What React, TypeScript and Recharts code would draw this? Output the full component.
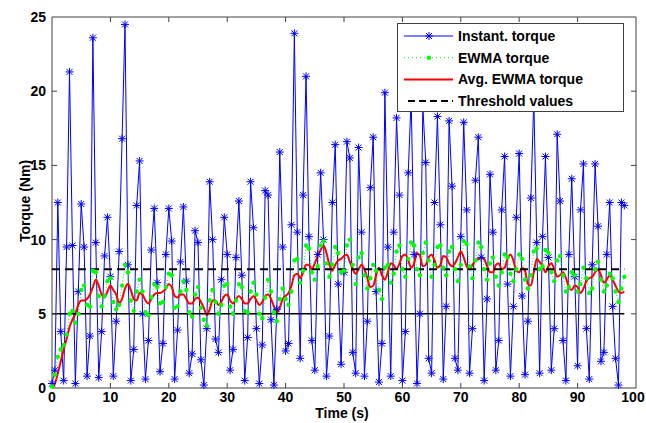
import { LineChart, Line, XAxis, YAxis, ReferenceLine, ReferenceArea, Legend } from "recharts";

// samples every 0.5 s, from 0 to 98 s
const sampleStep = 0.5;

const instantTorque = [
  0.3, 1.2, 12.5, 3.8, 0.5, 9.5, 21.3, 9.6, 0.3, 6.5,
  12.4, 9.5, 0.8, 3.5, 23.6, 9.8, 0.7, 3.8, 8.9, 11.5,
  7.5, 0.8, 4.5, 9.2, 16.8, 24.5, 8.3, 0.5, 2.6, 12.3,
  15.3, 5.0, 0.6, 3.2, 9.3, 12.1, 7.1, 1.1, 3.0, 9.0,
  12.1, 9.9, 0.6, 3.9, 8.5, 12.2, 7.2, 1.0, 2.3, 10.6,
  9.8, 1.9, 0.2, 4.0, 13.9, 10.0, 3.3, 2.4, 7.3, 11.5,
  9.0, 1.2, 2.6, 8.8, 12.6, 7.6, 0.5, 3.4, 13.9, 10.8,
  4.0, 0.3, 2.9, 13.3, 13.0, 4.6, 0.2, 5.3, 15.9, 9.5,
  2.5, 3.0, 11.0, 23.9, 10.5, 2.0, 13.0, 21.0, 10.2, 3.2,
  1.2, 9.0, 14.5, 10.0, 0.8, 3.5, 12.5, 16.4, 7.0, 1.6,
  7.8, 16.6, 15.5, 2.4, 1.0, 16.2, 10.5, 0.8, 4.5, 13.5,
  16.9, 6.5, 0.4, 3.0, 19.9, 9.5, 0.8, 10.5, 18.2, 13.0,
  0.5, 3.8, 14.5, 19.5, 9.0, 0.3, 5.0, 19.0, 15.2, 2.0,
  1.0, 12.5, 18.3, 11.0, 0.6, 5.5, 18.0, 13.6, 2.0, 1.2,
  10.2, 17.9, 12.0, 1.0, 4.0, 14.0, 16.9, 8.8, 0.5, 6.0,
  14.4, 10.5, 1.2, 3.2, 12.0, 15.6, 7.0, 0.8, 5.5, 11.5,
  15.8, 6.2, 0.9, 4.5, 12.8, 19.5, 9.8, 1.0, 10.2, 15.6,
  8.8, 1.2, 4.0, 17.1, 12.6, 3.2, 0.5, 9.0, 14.1, 7.5,
  1.5, 12.0, 15.1, 4.0, 0.6, 8.3, 15.1, 10.9, 1.8, 2.4,
  9.0, 12.5, 5.5, 2.0, 0.2, 12.5, 12.3,
];

const ewmaTorque = [
  0.1, 0.9, 2.1, 2.6, 2.9, 3.6, 5.0, 5.2, 4.4, 5.0,
  6.6, 6.9, 5.6, 5.5, 7.9, 7.8, 6.2, 5.5, 6.2, 7.2,
  7.4, 5.8, 5.3, 5.6, 6.9, 8.3, 7.8, 5.9, 5.2, 6.5,
  7.3, 6.5, 5.1, 4.9, 6.1, 7.0, 6.8, 5.7, 5.8, 6.8,
  7.7, 7.6, 5.4, 5.5, 6.5, 7.2, 6.6, 5.1, 4.8, 6.3,
  6.8, 5.4, 4.6, 4.2, 5.9, 6.6, 5.8, 5.0, 5.6, 6.9,
  7.0, 5.5, 5.0, 5.9, 7.0, 6.8, 5.2, 5.1, 6.5, 7.1,
  6.3, 5.0, 4.7, 6.1, 7.3, 6.5, 5.1, 4.5, 6.0, 6.7,
  6.0, 5.6, 6.5, 8.6, 8.7, 7.1, 7.9, 9.6, 9.4, 7.8,
  7.3, 8.2, 9.6, 9.9, 8.4, 7.5, 8.3, 9.5, 9.1, 7.8,
  7.9, 9.6, 10.0, 8.3, 7.0, 8.8, 9.1, 7.6, 6.7, 7.4,
  8.3, 7.9, 6.6, 6.0, 8.1, 8.3, 7.1, 7.7, 9.2, 9.6,
  8.0, 7.5, 8.7, 9.8, 9.6, 8.0, 7.6, 9.1, 9.8, 8.6,
  7.5, 8.3, 9.5, 9.6, 8.1, 7.6, 9.2, 9.5, 8.0, 7.2,
  8.3, 9.9, 9.7, 8.2, 7.4, 8.6, 9.8, 9.5, 8.0, 7.3,
  8.4, 8.8, 7.5, 6.9, 7.8, 9.0, 8.8, 7.7, 7.2, 8.0,
  9.0, 8.7, 7.3, 6.7, 7.6, 9.2, 9.4, 8.0, 8.2, 9.3,
  9.1, 7.8, 7.2, 8.6, 8.9, 7.6, 6.5, 6.8, 7.8, 7.6,
  6.5, 7.0, 8.1, 7.4, 6.4, 6.7, 8.0, 8.5, 7.3, 6.5,
  6.9, 7.7, 7.4, 6.5, 5.8, 6.7, 7.5,
];

const avgEwmaTorque = [
  0.0, 0.3, 1.0, 1.8, 2.6, 3.3, 4.1, 4.6, 5.0, 5.6,
  5.9, 5.9, 6.0, 6.3, 6.8, 7.3, 6.9, 6.3, 6.1, 6.5,
  6.9, 6.6, 6.3, 5.7, 6.0, 6.7, 7.0, 6.6, 6.0, 5.9,
  6.4, 6.3, 5.9, 5.7, 6.0, 6.3, 6.4, 6.4, 6.5, 6.7,
  7.0, 6.8, 6.2, 6.1, 6.3, 6.3, 6.0, 5.7, 5.7, 6.0,
  6.1, 5.8, 5.4, 4.9, 5.3, 5.9, 5.9, 5.6, 5.8, 6.2,
  6.3, 5.9, 5.7, 6.0, 6.2, 6.0, 5.7, 5.7, 6.0, 6.2,
  5.9, 5.6, 5.8, 6.2, 6.3, 6.0, 5.5, 5.1, 5.4, 6.0,
  6.2, 6.4, 6.9, 7.6, 7.7, 7.4, 7.8, 8.3, 8.3, 8.0,
  8.4, 8.9, 9.3, 9.6, 9.1, 8.3, 7.9, 8.3, 8.6, 8.7,
  8.9, 9.0, 8.5, 8.0, 7.7, 8.0, 8.3, 8.0, 7.4, 6.8,
  6.9, 7.6, 8.1, 7.6, 7.3, 7.8, 8.4, 8.3, 8.0, 8.4,
  8.9, 9.0, 8.6, 8.1, 8.4, 9.1, 8.9, 8.2, 8.3, 8.8,
  9.0, 8.6, 8.1, 8.3, 8.9, 8.8, 8.4, 8.2, 8.4, 8.8,
  9.2, 8.8, 8.2, 8.0, 8.3, 8.6, 8.7, 8.8, 8.7, 8.2,
  7.8, 7.8, 8.3, 8.4, 8.0, 8.1, 8.7, 9.0, 8.6, 7.9,
  7.8, 8.1, 7.9, 7.0, 6.9, 7.8, 8.7, 8.5, 8.2, 7.8,
  8.2, 8.4, 8.0, 7.5, 7.6, 7.8, 7.4, 6.8, 6.6, 6.9,
  6.8, 6.4, 6.7, 7.2, 7.4, 7.5, 7.8, 8.0, 7.6, 7.1,
  7.3, 7.6, 7.3, 6.9, 6.5, 6.4, 6.5,
];

const thresholdHigh = 8;
const thresholdLow = 5;
const thresholdEnd = 98;

const xTicks = [0, 10, 20, 30, 40, 50, 60, 70, 80, 90, 100];
const yTicks = [0, 5, 10, 15, 20, 25];

const data = instantTorque.map((v, i) => ({
  time: i * sampleStep,
  instant: v,
  ewma: ewmaTorque[i],
  avg: avgEwmaTorque[i],
}));

const FONT = "'Liberation Sans', Arial, sans-serif";
const PLOT_TOP = 17;
const PLOT_BOTTOM = 388;
const PLOT_LEFT = 52;
const PLOT_RIGHT = 636;
const AXIS_COLOR = "#404040";

const Asterisk = (props: any) => {
  const { cx, cy, index } = props;
  if (cx == null || cy == null) return <g key={`a-${index}`} />;
  const r = 4;
  const d = 3;
  return (
    <path
      key={`a-${index}`}
      d={`M${cx - r},${cy}H${cx + r}M${cx},${cy - r}V${cy + r}M${cx - d},${cy - d}L${cx + d},${cy + d}M${cx - d},${cy + d}L${cx + d},${cy - d}`}
      stroke="#0000ff"
      strokeWidth={1}
      fill="none"
    />
  );
};

const GreenDot = (props: any) => {
  const { cx, cy, index } = props;
  if (cx == null || cy == null) return <g key={`g-${index}`} />;
  return <circle key={`g-${index}`} cx={cx} cy={cy} r={2.2} fill="#00ff00" stroke="none" />;
};

const XTick = (props: any) => {
  const { x, payload } = props;
  const inner = payload.value !== 0 && payload.value !== 100;
  const shift = payload.value === 100 ? -3 : 0;
  return (
    <g>
      {inner && <line x1={x} x2={x} y1={PLOT_BOTTOM} y2={PLOT_BOTTOM - 5} stroke={AXIS_COLOR} />}
      {inner && <line x1={x} x2={x} y1={PLOT_TOP} y2={PLOT_TOP + 5} stroke={AXIS_COLOR} />}
      <text x={x + shift} y={PLOT_BOTTOM + 14} textAnchor="middle" fontFamily={FONT} fontSize={14} fontWeight="bold" fill="#000">
        {payload.value}
      </text>
    </g>
  );
};

const YTick = (props: any) => {
  const { y, payload } = props;
  const inner = payload.value !== 0 && payload.value !== 25;
  return (
    <g>
      {inner && <line x1={PLOT_LEFT} x2={PLOT_LEFT + 5} y1={y} y2={y} stroke={AXIS_COLOR} />}
      {inner && <line x1={PLOT_RIGHT} x2={PLOT_RIGHT - 5} y1={y} y2={y} stroke={AXIS_COLOR} />}
      <text x={PLOT_LEFT - 6} y={y + 5} textAnchor="end" fontFamily={FONT} fontSize={14} fontWeight="bold" fill="#000">
        {payload.value}
      </text>
    </g>
  );
};

const XLabel = () => (
  <text x={342} y={418} textAnchor="middle" fontFamily={FONT} fontSize={14} fontWeight="bold" fill="#000">
    Time (s)
  </text>
);

const YLabel = () => (
  <text
    x={0}
    y={0}
    transform="translate(30,201) rotate(-90)"
    textAnchor="middle"
    fontFamily={FONT}
    fontSize={14}
    fontWeight="bold"
    fill="#000"
  >
    Torque (Nm)
  </text>
);

const legendItems = [
  { label: "Instant. torque", kind: "instant" },
  { label: "EWMA torque", kind: "ewma" },
  { label: "Avg. EWMA torque", kind: "avg" },
  { label: "Threshold values", kind: "threshold" },
];

const LegendBox = () => (
  <div style={{ width: 227, height: 89, background: "#fff", border: `1px solid ${AXIS_COLOR}`, boxSizing: "border-box" }}>
    <svg width={225} height={87}>
      {legendItems.map((it, i) => {
        const y = 12 + i * 21.7;
        return (
          <g key={it.label}>
            {it.kind === "instant" && (
              <>
                <line x1={6} x2={55} y1={y} y2={y} stroke="#0000ff" />
                <Asterisk cx={31} cy={y} index={-1} />
              </>
            )}
            {it.kind === "ewma" && (
              <>
                <line x1={6} x2={55} y1={y} y2={y} stroke="#00ff00" strokeDasharray="1 3" />
                <circle cx={31} cy={y} r={2.2} fill="#00ff00" />
              </>
            )}
            {it.kind === "avg" && <line x1={6} x2={55} y1={y} y2={y} stroke="#ff0000" strokeWidth={2} />}
            {it.kind === "threshold" && (
              <line x1={10} x2={55} y1={y} y2={y} stroke="#000" strokeWidth={2} strokeDasharray="7 4" />
            )}
            <text x={60} y={y + 5} fontFamily={FONT} fontSize={14} fontWeight="bold" fill="#000">
              {it.label}
            </text>
          </g>
        );
      })}
    </svg>
  </div>
);

export default function App() {
  return (
    <div style={{ position: "absolute", left: 0, top: 0, background: "#fff" }}>
      <LineChart width={646} height={423} data={data} margin={{ top: 17, right: 10, bottom: 0, left: 0 }}>
        <XAxis
          dataKey="time"
          type="number"
          domain={[0, 100]}
          ticks={xTicks}
          interval={0}
          axisLine={false}
          tickLine={false}
          height={35}
          tick={<XTick />}
          label={<XLabel />}
        />
        <YAxis
          type="number"
          domain={[0, 25]}
          ticks={yTicks}
          interval={0}
          axisLine={false}
          tickLine={false}
          width={52}
          tick={<YTick />}
          label={<YLabel />}
        />
        <ReferenceArea x1={0} x2={100} y1={0} y2={25} fill="none" stroke={AXIS_COLOR} strokeWidth={1} />
        <Line
          dataKey="instant"
          type="linear"
          stroke="#0000ff"
          strokeWidth={1}
          dot={Asterisk}
          activeDot={false}
          isAnimationActive={false}
        />
        <Line
          dataKey="ewma"
          type="linear"
          stroke="#00ff00"
          strokeWidth={1}
          strokeDasharray="1 2"
          dot={GreenDot}
          activeDot={false}
          isAnimationActive={false}
        />
        <Line
          dataKey="avg"
          type="monotone"
          stroke="#ff0000"
          strokeWidth={2}
          dot={false}
          activeDot={false}
          isAnimationActive={false}
        />
        <ReferenceLine
          segment={[{ x: 0, y: thresholdHigh }, { x: thresholdEnd, y: thresholdHigh }]}
          stroke="#000"
          strokeWidth={2}
          strokeDasharray="8 5"
        />
        <ReferenceLine
          segment={[{ x: 0, y: thresholdLow }, { x: thresholdEnd, y: thresholdLow }]}
          stroke="#000"
          strokeWidth={1.5}
        />
        <Legend
          layout="horizontal"
          verticalAlign="middle"
          align="center"
          content={<LegendBox />}
          wrapperStyle={{ left: 397, top: 23, width: 227, height: 89 }}
        />
      </LineChart>
    </div>
  );
}
